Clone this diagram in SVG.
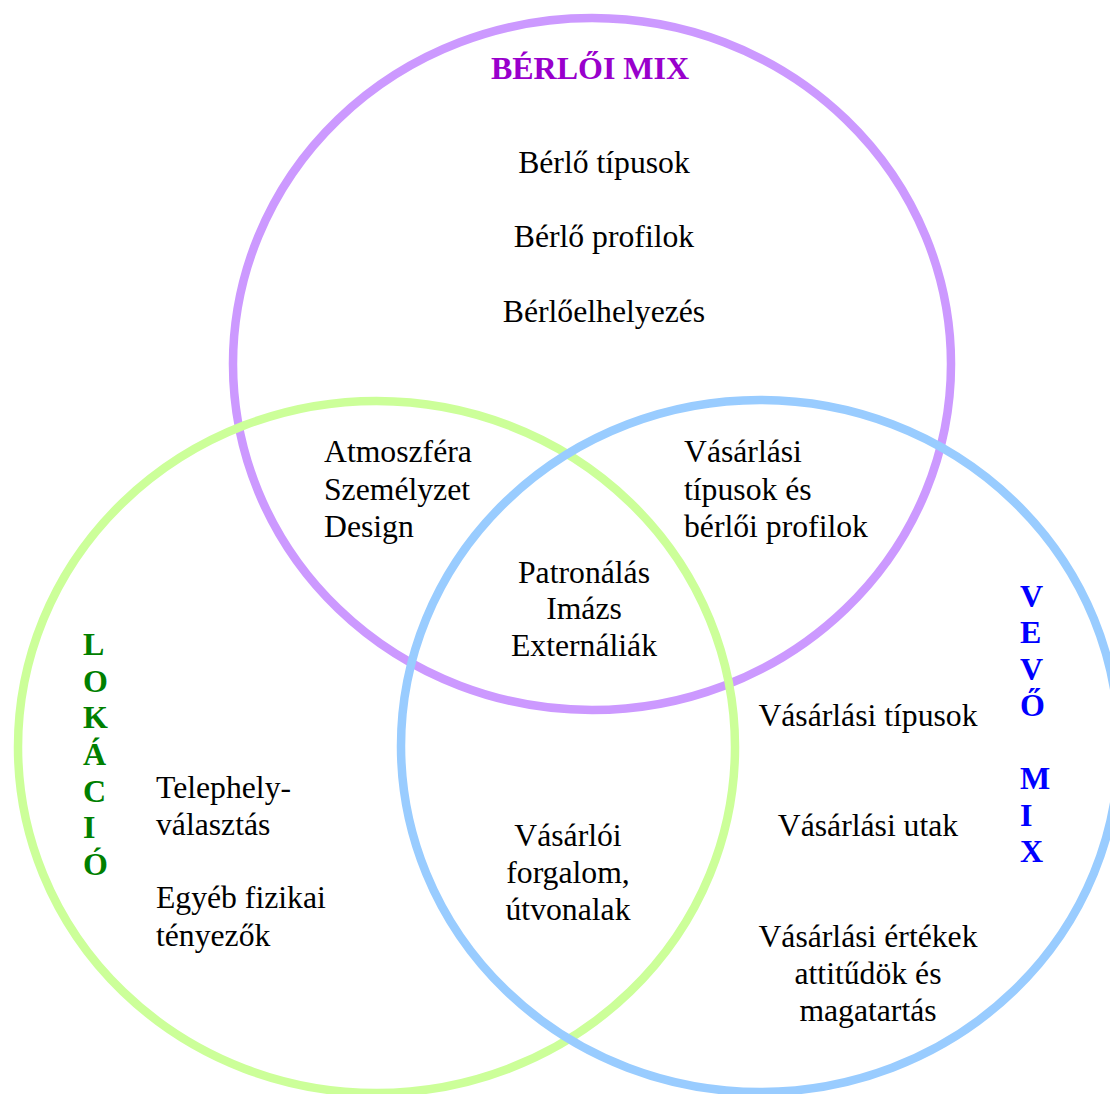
<svg xmlns="http://www.w3.org/2000/svg" width="1110" height="1094" viewBox="0 0 1110 1094">
  <style>
    .ring { fill: none; stroke-width: 8.5; }
    .t { font-family: "Liberation Serif", "Times New Roman", serif; font-size: 31.7px; fill: #000; }
    .c { text-anchor: middle; }
    .h { font-family: "Liberation Serif", "Times New Roman", serif; font-size: 32px; font-weight: bold; }
  </style>
  <rect width="1110" height="1094" fill="#fff"/>
  <g id="connectors"/>
  <g id="tenant-mix">
    <ellipse class="ring" cx="592" cy="364" rx="359" ry="346" stroke="#CC99FF"/>
    <text class="h c" x="590" y="79" fill="#9900CC">BÉRLŐI MIX</text>
    <text class="t c" x="604" y="173">Bérlő típusok</text>
    <text class="t c" x="604" y="247">Bérlő profilok</text>
    <text class="t c" x="604" y="322">Bérlőelhelyezés</text>
  </g>
  <g id="location">
    <ellipse class="ring" cx="376.5" cy="747" rx="358.5" ry="346" stroke="#CCFF99"/>
    <text class="h" x="83" fill="#008000">
      <tspan x="83" y="655">L</tspan>
      <tspan x="83" y="692">O</tspan>
      <tspan x="83" y="728">K</tspan>
      <tspan x="83" y="765">Á</tspan>
      <tspan x="83" y="802">C</tspan>
      <tspan x="83" y="838">I</tspan>
      <tspan x="83" y="875">Ó</tspan>
    </text>
    <text class="t" x="156" y="798">Telephely-</text>
    <text class="t" x="156" y="835">választás</text>
    <text class="t" x="156" y="908">Egyéb fizikai</text>
    <text class="t" x="156" y="946">tényezők</text>
  </g>
  <g id="customer-mix">
    <ellipse class="ring" cx="760" cy="746" rx="359" ry="346" stroke="#99CCFF"/>
    <text class="h" fill="#0000FF">
      <tspan x="1020" y="607">V</tspan>
      <tspan x="1020" y="643">E</tspan>
      <tspan x="1020" y="680">V</tspan>
      <tspan x="1020" y="716">Ő</tspan>
      <tspan x="1020" y="789">M</tspan>
      <tspan x="1020" y="826">I</tspan>
      <tspan x="1020" y="862">X</tspan>
    </text>
    <text class="t c" x="868" y="726">Vásárlási típusok</text>
    <text class="t c" x="868" y="836">Vásárlási utak</text>
    <text class="t c" x="868" y="947">Vásárlási értékek</text>
    <text class="t c" x="868" y="984">attitűdök és</text>
    <text class="t c" x="868" y="1021">magatartás</text>
  </g>
  <g id="tenant-location">
    <text class="t" x="324" y="462">Atmoszféra</text>
    <text class="t" x="324" y="500">Személyzet</text>
    <text class="t" x="324" y="537">Design</text>
  </g>
  <g id="tenant-customer">
    <text class="t" x="684" y="462">Vásárlási</text>
    <text class="t" x="684" y="500">típusok és</text>
    <text class="t" x="684" y="537">bérlői profilok</text>
  </g>
  <g id="all-three">
    <text class="t c" x="584" y="583">Patronálás</text>
    <text class="t c" x="584" y="619">Imázs</text>
    <text class="t c" x="584" y="656">Externáliák</text>
  </g>
  <g id="location-customer">
    <text class="t c" x="568" y="846">Vásárlói</text>
    <text class="t c" x="568" y="883">forgalom,</text>
    <text class="t c" x="568" y="920">útvonalak</text>
  </g>
</svg>
